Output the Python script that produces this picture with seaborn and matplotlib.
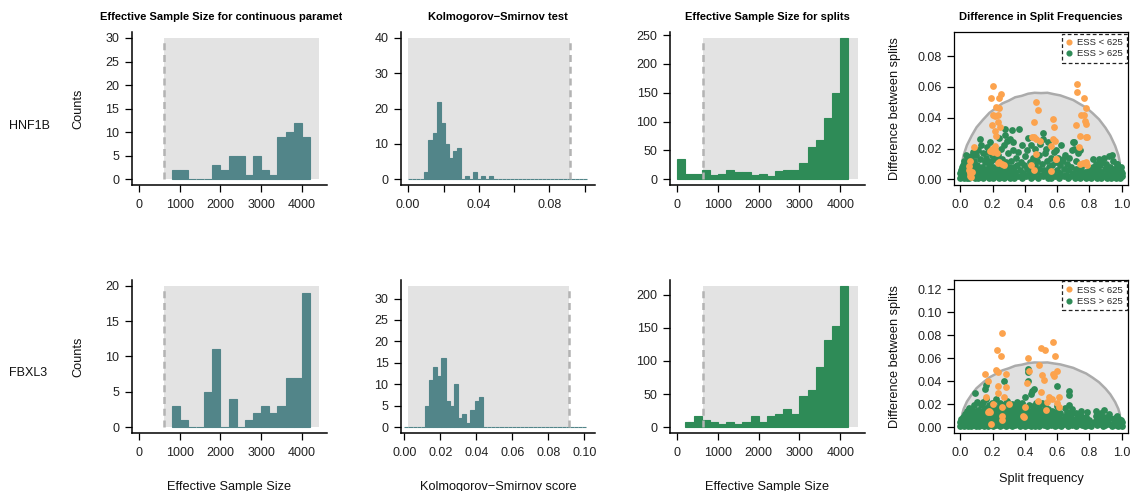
import numpy as np
import matplotlib
matplotlib.use("Agg")
import matplotlib.pyplot as plt
import seaborn as sns
from matplotlib.patches import Rectangle, Polygon
from matplotlib.lines import Line2D
from matplotlib.transforms import Bbox, TransformedBbox

# ---------------------------------------------------------------- data
genes = ["HNF1B", "FBXL3"]
ess_threshold = 625
ks_critical = 0.0918

# ESS of continuous parameters (bins of 200 starting at 800)
ess_bin_width = 200
ess_cont_start = 800
ess_cont_counts = {
    "HNF1B": [2, 2, 0, 0, 0, 3, 2, 5, 5, 1, 5, 2, 1, 9, 10, 12, 9],
    "FBXL3": [3, 1, 0, 0, 5, 11, 0, 4, 0, 1, 2, 3, 2, 3, 7, 7, 19],
}

# Kolmogorov-Smirnov scores (bins of 0.0023 starting at 0)
ks_bin_width = 0.0023
ks_counts = {
    "HNF1B": [0, 0, 0, 0, 2, 11, 13, 22, 16, 10, 6, 8, 9, 0, 1, 0, 2, 0, 1, 0, 1,
              0, 0, 0, 0, 0, 0, 0, 0, 0, 0, 0, 0, 0, 0, 0, 0, 0, 0, 0, 0, 0, 0, 0],
    "FBXL3": [0, 0, 0, 0, 0, 5, 11, 14, 12, 16, 6, 5, 10, 2, 3, 1, 4, 6, 7, 0, 0,
              0, 0, 0, 0, 0, 0, 0, 0, 0, 0, 0, 0, 0, 0, 0, 0, 0, 0, 0, 0, 0, 0, 0],
}
ks_range = {"HNF1B": (0.0, 0.1017), "FBXL3": (0.0022, 0.102)}

# ESS of splits (bins of 200)
split_start = {"HNF1B": 0, "FBXL3": 200}
split_counts = {
    "HNF1B": [35, 10, 10, 17, 8, 10, 17, 12, 12, 8, 10, 5, 14, 17, 17, 28, 56, 68,
              106, 150, 245],
    "FBXL3": [7, 16, 11, 8, 5, 8, 5, 8, 16, 8, 17, 19, 28, 19, 47, 56, 91, 132,
              153, 214],
}

ess_cont_ymax = {"HNF1B": 30, "FBXL3": 20}
ks_ymax = {"HNF1B": 40, "FBXL3": 33}
ess_xmax = 4430

# expected difference between runs as a function of split frequency
curve_p = [0.01, 0.02, 0.04, 0.07, 0.10, 0.14, 0.18, 0.22, 0.26, 0.30, 0.34,
           0.38, 0.42, 0.46, 0.50, 0.54, 0.58, 0.62, 0.66, 0.70, 0.74, 0.78,
           0.82, 0.86, 0.90, 0.93, 0.96, 0.98, 0.99]
curve_d = [0.0108, 0.0158, 0.0221, 0.0284, 0.0338, 0.0387, 0.0432, 0.0462,
           0.0493, 0.0511, 0.0533, 0.0542, 0.0556, 0.0562, 0.0560, 0.0562,
           0.0553, 0.0545, 0.0530, 0.0515, 0.0490, 0.0466, 0.0430, 0.0390,
           0.0335, 0.0285, 0.0218, 0.0158, 0.0108]

# split frequency vs difference between splits, HNF1B
hnf_low_freq = [0.205, 0.190, 0.240, 0.253, 0.222, 0.242, 0.200, 0.212, 0.232,
                0.195, 0.232, 0.246, 0.215, 0.222, 0.215, 0.185, 0.205, 0.226,
                0.196, 0.212, 0.230, 0.257, 0.268, 0.240, 0.082, 0.062, 0.055,
                0.050, 0.070, 0.057, 0.068, 0.062, 0.472, 0.483, 0.456, 0.458,
                0.447, 0.466, 0.468, 0.435, 0.456, 0.491, 0.575, 0.581, 0.575,
                0.565, 0.596, 0.565, 0.584, 0.594, 0.725, 0.725, 0.764, 0.780,
                0.766, 0.750, 0.776, 0.782, 0.715, 0.740, 0.780, 0.735, 0.760,
                0.745, 0.782, 0.788, 0.785]
hnf_low_diff = [0.0605, 0.0526, 0.0528, 0.0554, 0.0467, 0.0462, 0.0417, 0.0410,
                0.0415, 0.0352, 0.0370, 0.0337, 0.0315, 0.0283, 0.0217, 0.0185,
                0.0178, 0.0174, 0.0196, 0.0190, 0.0104, 0.0098, 0.0092, 0.0110,
                0.0207, 0.0120, 0.0085, 0.0060, 0.0050, 0.0022, 0.0018, 0.0040,
                0.0504, 0.0450, 0.0370, 0.0278, 0.0272, 0.0262, 0.0167, 0.0091,
                0.0059, 0.0250, 0.0390, 0.0337, 0.0265, 0.0217, 0.0135, 0.0054,
                0.0250, 0.0130, 0.0620, 0.0570, 0.0528, 0.0460, 0.0417, 0.0417,
                0.0380, 0.0362, 0.0352, 0.0283, 0.0276, 0.0211, 0.0109, 0.0100,
                0.0112, 0.0095, 0.0272]
hnf_high_freq = [
    0.000, 0.010, 0.005, 0.020, 0.020, 0.015, 0.030, 0.030, 0.025, 0.040, 0.040,
    0.040, 0.045, 0.035, 0.000, 0.010,
    0.050, 0.060, 0.055, 0.070, 0.075, 0.080, 0.085, 0.090, 0.090, 0.095, 0.065,
    0.080,
    0.100, 0.105, 0.110, 0.115, 0.120, 0.123, 0.130, 0.125, 0.135, 0.140, 0.140,
    0.145, 0.110, 0.150,
    0.155, 0.160, 0.160, 0.165, 0.170, 0.175, 0.180, 0.180, 0.185, 0.190, 0.195,
    0.195, 0.170,
    0.200, 0.205, 0.210, 0.215, 0.220, 0.225, 0.230, 0.235, 0.238, 0.240, 0.245,
    0.250, 0.250,
    0.255, 0.260, 0.265, 0.270, 0.272, 0.279, 0.280, 0.285, 0.287, 0.290, 0.295,
    0.300, 0.275,
    0.305, 0.308, 0.310, 0.315, 0.320, 0.325, 0.330, 0.329, 0.335, 0.340, 0.345,
    0.350, 0.318,
    0.355, 0.360, 0.366, 0.370, 0.375, 0.380, 0.385, 0.390, 0.395, 0.400,
    0.405, 0.410, 0.415, 0.421, 0.425, 0.430, 0.435, 0.441, 0.445, 0.450,
    0.455, 0.460, 0.465, 0.470, 0.475, 0.480, 0.485, 0.490, 0.495, 0.500,
    0.505, 0.511, 0.511, 0.515, 0.520, 0.525, 0.532, 0.535, 0.540, 0.544, 0.545,
    0.550,
    0.555, 0.560, 0.565, 0.570, 0.575, 0.580, 0.585, 0.590, 0.595, 0.600,
    0.604, 0.610, 0.615, 0.620, 0.626, 0.630, 0.635, 0.640, 0.645, 0.650,
    0.655, 0.660, 0.665, 0.670, 0.675, 0.680, 0.685, 0.690, 0.698, 0.703, 0.706,
    0.700,
    0.710, 0.715, 0.720, 0.725, 0.730, 0.739, 0.740, 0.745, 0.750,
    0.760, 0.770, 0.780, 0.790, 0.800,
    0.810, 0.815, 0.821, 0.825, 0.830, 0.835, 0.840, 0.845, 0.850,
    0.855, 0.860, 0.862, 0.865, 0.870, 0.875, 0.880, 0.885, 0.891, 0.895, 0.900,
    0.905, 0.910, 0.915, 0.922, 0.925, 0.930, 0.935, 0.940, 0.943, 0.945, 0.950,
    0.955, 0.960, 0.965, 0.970, 0.973, 0.975, 0.980, 0.985, 0.990, 0.994, 1.000,
    1.000, 0.995]
hnf_high_diff = [
    0.001, 0.003, 0.006, 0.001, 0.005, 0.009, 0.002, 0.007, 0.012, 0.001, 0.004,
    0.009, 0.014, 0.016, 0.004, 0.008,
    0.001, 0.005, 0.011, 0.002, 0.008, 0.004, 0.012, 0.001, 0.007, 0.016, 0.015,
    0.018,
    0.003, 0.009, 0.001, 0.006, 0.013, 0.026, 0.022, 0.003, 0.008, 0.001, 0.017,
    0.005, 0.019, 0.011,
    0.002, 0.007, 0.014, 0.021, 0.003, 0.010, 0.001, 0.006, 0.024, 0.012, 0.004,
    0.016, 0.018,
    0.001, 0.008, 0.004, 0.013, 0.002, 0.007, 0.016, 0.004, 0.027, 0.001, 0.009,
    0.020, 0.005,
    0.002, 0.013, 0.007, 0.001, 0.022, 0.029, 0.005, 0.011, 0.025, 0.002, 0.017,
    0.008, 0.033,
    0.001, 0.026, 0.005, 0.012, 0.002, 0.019, 0.008, 0.024, 0.001, 0.005, 0.014,
    0.009, 0.032,
    0.002, 0.018, 0.033, 0.006, 0.011, 0.001, 0.022, 0.004, 0.009, 0.015,
    0.002, 0.007, 0.019, 0.027, 0.004, 0.011, 0.001, 0.022, 0.006, 0.014,
    0.002, 0.009, 0.020, 0.005, 0.012, 0.001, 0.016, 0.007, 0.023, 0.003,
    0.010, 0.030, 0.026, 0.002, 0.006, 0.017, 0.020, 0.004, 0.012, 0.024, 0.001,
    0.008,
    0.003, 0.014, 0.001, 0.009, 0.005, 0.018, 0.002, 0.011, 0.019, 0.006,
    0.014, 0.001, 0.009, 0.004, 0.022, 0.012, 0.013, 0.002, 0.007, 0.016,
    0.003, 0.010, 0.001, 0.006, 0.014, 0.002, 0.008, 0.019, 0.024, 0.024, 0.020,
    0.004,
    0.001, 0.007, 0.012, 0.003, 0.017, 0.019, 0.005, 0.001, 0.008,
    0.002, 0.005, 0.001, 0.003, 0.006,
    0.001, 0.004, 0.013, 0.008, 0.0065, 0.002, 0.010, 0.005, 0.001,
    0.007, 0.013, 0.003, 0.009, 0.001, 0.005, 0.011, 0.002, 0.014, 0.007, 0.003,
    0.010, 0.001, 0.006, 0.015, 0.003, 0.008, 0.001, 0.005, 0.0157, 0.012, 0.002,
    0.007, 0.004, 0.001, 0.010, 0.0098, 0.005, 0.002, 0.006, 0.001, 0.0054, 0.002,
    0.004, 0.008]

# split frequency vs difference between splits, FBXL3
fbx_low_freq = [0.261, 0.224, 0.251, 0.575, 0.499, 0.522, 0.589, 0.419, 0.150,
                0.220, 0.236, 0.281, 0.170, 0.236, 0.281, 0.230, 0.158, 0.271,
                0.205, 0.302, 0.261, 0.179, 0.172, 0.185, 0.257, 0.261, 0.189,
                0.400, 0.388, 0.395, 0.415, 0.425, 0.487, 0.507, 0.497, 0.517,
                0.483, 0.528, 0.548, 0.569, 0.573, 0.578, 0.600, 0.610, 0.600,
                0.610, 0.535]
fbx_low_diff = [0.0817, 0.0672, 0.0620, 0.0736, 0.0687, 0.0670, 0.0614, 0.0597,
                0.0461, 0.0499, 0.0475, 0.0461, 0.0403, 0.0360, 0.0345, 0.0293,
                0.0258, 0.0258, 0.0200, 0.0200, 0.0177, 0.0142, 0.0130, 0.0135,
                0.0099, 0.0061, 0.0026, 0.0177, 0.0099, 0.0085, 0.0380, 0.0490,
                0.0539, 0.0452, 0.0307, 0.0409, 0.0229, 0.0148, 0.0258, 0.0243,
                0.0461, 0.0445, 0.0490, 0.0258, 0.0206, 0.0171, 0.0215]
fbx_high_freq = [
    0.000, 0.000, 0.005, 0.010, 0.010, 0.015, 0.020, 0.020, 0.025, 0.030, 0.030,
    0.035, 0.040, 0.040, 0.045, 0.045, 0.050, 0.050,
    0.055, 0.055, 0.060, 0.060, 0.065, 0.065, 0.070, 0.070, 0.075, 0.080, 0.080,
    0.085, 0.085, 0.088, 0.090, 0.095, 0.095, 0.100, 0.100,
    0.105, 0.110, 0.110, 0.115, 0.120, 0.120, 0.125, 0.130, 0.130, 0.135, 0.140,
    0.140, 0.145, 0.145, 0.150, 0.150,
    0.154, 0.158, 0.155, 0.160, 0.160, 0.165, 0.170, 0.170, 0.175, 0.175, 0.180,
    0.185, 0.185, 0.190, 0.195, 0.195, 0.200,
    0.205, 0.205, 0.210, 0.210, 0.215, 0.220, 0.220, 0.225, 0.230, 0.235, 0.235,
    0.240, 0.245, 0.245, 0.250, 0.250,
    0.255, 0.260, 0.260, 0.265, 0.271, 0.270, 0.275, 0.280, 0.280, 0.285, 0.290,
    0.290, 0.295, 0.300, 0.300,
    0.305, 0.310, 0.310, 0.315, 0.320, 0.320, 0.325, 0.330, 0.330, 0.335, 0.340,
    0.345, 0.345, 0.350, 0.350,
    0.355, 0.360, 0.360, 0.365, 0.370, 0.370, 0.375, 0.380, 0.385, 0.385, 0.390,
    0.395, 0.400, 0.400, 0.400,
    0.405, 0.410, 0.415, 0.421, 0.421, 0.421, 0.420, 0.425, 0.430, 0.430, 0.435,
    0.440, 0.440, 0.445, 0.445, 0.450, 0.450,
    0.456, 0.455, 0.460, 0.465, 0.465, 0.470, 0.475, 0.480, 0.485, 0.490, 0.490,
    0.495, 0.500, 0.500,
    0.507, 0.510, 0.515, 0.520, 0.520, 0.525, 0.530, 0.535, 0.540, 0.545, 0.545,
    0.550,
    0.555, 0.560, 0.565, 0.570, 0.575, 0.580, 0.585, 0.590, 0.595, 0.600, 0.600,
    0.600,
    0.610, 0.615, 0.620, 0.625, 0.630, 0.640, 0.650, 0.650, 0.655, 0.660, 0.665,
    0.671, 0.671, 0.670, 0.675, 0.680, 0.685, 0.690, 0.695, 0.700,
    0.710, 0.715, 0.720, 0.725, 0.730, 0.740, 0.750, 0.750, 0.755, 0.760, 0.770,
    0.780, 0.780, 0.785, 0.790, 0.800,
    0.810, 0.830, 0.840, 0.840, 0.845, 0.850, 0.860, 0.870, 0.875, 0.880, 0.885,
    0.890, 0.890, 0.895, 0.900,
    0.910, 0.920, 0.925, 0.930, 0.940, 0.950, 0.960, 0.965, 0.970, 0.975, 0.980,
    0.985, 0.990, 0.995, 1.000, 1.000]
fbx_high_diff = [
    0.001, 0.004, 0.007, 0.002, 0.005, 0.009, 0.001, 0.004, 0.007, 0.011, 0.002,
    0.005, 0.008, 0.014, 0.001, 0.004, 0.011, 0.017,
    0.002, 0.006, 0.009, 0.013, 0.001, 0.004, 0.007, 0.016, 0.011, 0.002, 0.005,
    0.009, 0.019, 0.030, 0.013, 0.001, 0.006, 0.010, 0.022,
    0.003, 0.008, 0.015, 0.001, 0.005, 0.012, 0.019, 0.002, 0.009, 0.006, 0.014,
    0.022, 0.001, 0.004, 0.010, 0.017,
    0.033, 0.037, 0.002, 0.007, 0.024, 0.013, 0.001, 0.004, 0.009, 0.019, 0.006,
    0.002, 0.016, 0.011, 0.004, 0.021, 0.008,
    0.001, 0.014, 0.005, 0.018, 0.010, 0.002, 0.024, 0.007, 0.013, 0.003, 0.017,
    0.009, 0.001, 0.021, 0.005, 0.012,
    0.008, 0.002, 0.016, 0.011, 0.040, 0.005, 0.020, 0.001, 0.009, 0.014, 0.004,
    0.023, 0.007, 0.012, 0.018,
    0.002, 0.006, 0.015, 0.010, 0.001, 0.020, 0.004, 0.008, 0.013, 0.017, 0.002,
    0.006, 0.011, 0.015, 0.022,
    0.003, 0.008, 0.019, 0.012, 0.001, 0.005, 0.016, 0.009, 0.003, 0.021, 0.013,
    0.006, 0.001, 0.026, 0.010,
    0.004, 0.015, 0.008, 0.0504, 0.0475, 0.0403, 0.002, 0.019, 0.011, 0.005,
    0.029, 0.001, 0.014, 0.008, 0.031, 0.003, 0.018,
    0.033, 0.011, 0.006, 0.001, 0.015, 0.021, 0.009, 0.004, 0.013, 0.001, 0.017,
    0.007, 0.011, 0.003,
    0.021, 0.006, 0.014, 0.002, 0.009, 0.018, 0.005, 0.012, 0.001, 0.008, 0.016,
    0.004,
    0.011, 0.002, 0.007, 0.014, 0.004, 0.009, 0.001, 0.013, 0.006, 0.036, 0.018,
    0.002,
    0.009, 0.004, 0.012, 0.001, 0.006, 0.003, 0.017, 0.010, 0.005, 0.013, 0.001,
    0.0316, 0.028, 0.008, 0.019, 0.004, 0.011, 0.016, 0.002, 0.007,
    0.004, 0.012, 0.001, 0.008, 0.003, 0.005, 0.010, 0.014, 0.002, 0.006, 0.001,
    0.004, 0.009, 0.013, 0.002, 0.006,
    0.001, 0.004, 0.010, 0.014, 0.006, 0.002, 0.008, 0.003, 0.012, 0.006, 0.001,
    0.015, 0.009, 0.004, 0.002,
    0.006, 0.011, 0.003, 0.008, 0.001, 0.004, 0.008, 0.002, 0.010, 0.005, 0.001,
    0.007, 0.003, 0.006, 0.001, 0.004]

dsf = {
    "HNF1B": dict(low=(hnf_low_freq, hnf_low_diff), high=(hnf_high_freq, hnf_high_diff),
                  ymax=0.0918, yticks=[0, 0.02, 0.04, 0.06, 0.08]),
    "FBXL3": dict(low=(fbx_low_freq, fbx_low_diff), high=(fbx_high_freq, fbx_high_diff),
                  ymax=0.123, yticks=[0, 0.02, 0.04, 0.06, 0.08, 0.10, 0.12]),
}

# ---------------------------------------------------------------- style
TEAL = "#528589"
GREEN = "#2E8B57"
ORANGE = "#FCA34E"
PANEL_GRAY = "#E3E3E3"
DASH_GRAY = "#B3B3B3"

sns.set_theme(style="ticks")
plt.rcParams["font.family"] = ["Liberation Sans", "DejaVu Sans"]
plt.rcParams["axes.unicode_minus"] = True

W, H = 1132, 491
fig = plt.figure(figsize=(W / 100, H / 100), dpi=100)
fig.patch.set_facecolor("white")

COLS = [(131.7, 326.7), (401, 595), (670, 865), (954, 1128)]
ROWS = [(32.3, 185), (280, 432.7)]


def px_axes(col, row):
    x0, x1 = COLS[col]
    y0, y1 = ROWS[row]
    return fig.add_axes([x0 / W, 1 - y1 / H, (x1 - x0) / W, (y1 - y0) / H])


def ext(a, b):
    r = b - a
    return a - 0.04 * r, b + 0.04 * r


def style_axis(ax, box=False):
    ax.set_facecolor("white")
    for side in ("top", "right"):
        ax.spines[side].set_visible(box)
    for sp in ax.spines.values():
        sp.set_color("black")
        sp.set_linewidth(1.1 if not box else 0.9)
    ax.tick_params(direction="out", length=5, width=0.9, colors="black",
                   labelsize=9, labelcolor="#222222")
    ax.tick_params(axis="x", pad=5)
    ax.tick_params(axis="y", pad=4)
    ax.set_xlabel("")
    ax.set_ylabel("")
    ax.grid(False)


def hist_panel(ax, start, width, counts, color):
    counts = np.asarray(counts, dtype=int)
    edges = start + width * np.arange(len(counts) + 1)
    centers = (edges[:-1] + edges[1:]) / 2
    values = np.repeat(centers, counts)
    sns.histplot(x=values, bins=list(edges), color=color, edgecolor=color,
                 linewidth=0.8, alpha=1, ax=ax, zorder=2)


def threshold_marks(ax, x0, x1, ytop, xline):
    ax.add_patch(Rectangle((x0, 0), x1 - x0, ytop, facecolor=PANEL_GRAY,
                           edgecolor="none", zorder=0))
    ax.plot([xline, xline], [0, ytop], color=DASH_GRAY, lw=1.8,
            dashes=(2.8, 1.9), zorder=3, solid_capstyle="butt")


for row, gene in enumerate(genes):
    # --- ESS of continuous parameters
    ax = px_axes(0, row)
    threshold_marks(ax, ess_threshold, ess_xmax, ess_cont_ymax[gene], ess_threshold)
    hist_panel(ax, ess_cont_start, ess_bin_width, ess_cont_counts[gene], TEAL)
    ax.set_xlim(*ext(0, ess_xmax))
    ax.set_ylim(*ext(0, ess_cont_ymax[gene]))
    ax.set_xticks([0, 1000, 2000, 3000, 4000])
    ax.set_yticks(np.arange(0, ess_cont_ymax[gene] + 1, 5))
    style_axis(ax)

    # --- Kolmogorov-Smirnov scores
    ax = px_axes(1, row)
    lo, hi = ks_range[gene]
    threshold_marks(ax, lo, ks_critical, ks_ymax[gene], ks_critical)
    hist_panel(ax, 0.0, ks_bin_width, ks_counts[gene], TEAL)
    ax.set_xlim(*ext(lo, hi))
    ax.set_ylim(*ext(0, ks_ymax[gene]))
    ax.set_xticks([0, 0.02, 0.04, 0.06, 0.08, 0.10])
    if row == 0:
        ax.set_xticklabels(["0.00", "", "0.04", "", "0.08", ""])
        ax.set_yticks([0, 10, 20, 30, 40])
    else:
        ax.set_xticklabels(["0.00", "0.02", "0.04", "0.06", "0.08", "0.10"])
        ax.set_yticks([0, 5, 10, 15, 20, 25, 30])
    style_axis(ax)

    # --- ESS of splits
    ax = px_axes(2, row)
    ytop = max(split_counts[gene])
    threshold_marks(ax, ess_threshold, ess_xmax, ytop, ess_threshold)
    hist_panel(ax, split_start[gene], ess_bin_width, split_counts[gene], GREEN)
    ax.set_xlim(*ext(0, ess_xmax))
    ylo, yhi = ext(0, ytop)
    ax.set_ylim(ylo, yhi)
    ax.set_xticks([0, 1000, 2000, 3000, 4000])
    ax.set_yticks(np.arange(0, yhi, 50))
    style_axis(ax)

    # --- difference in split frequencies
    ax = px_axes(3, row)
    d = dsf[gene]
    poly = [(curve_p[0], 0)] + list(zip(curve_p, curve_d)) + [(curve_p[-1], 0)]
    ax.add_patch(Polygon(poly, closed=True, facecolor="#E0E0E0",
                         edgecolor="none", zorder=0))
    ax.plot(curve_p, curve_d, color="#ABABAB", lw=1.8, zorder=1)
    sns.scatterplot(x=d["high"][0], y=d["high"][1], color=GREEN, s=24,
                    linewidth=0, ax=ax, zorder=2, legend=False)
    sns.scatterplot(x=d["low"][0], y=d["low"][1], color=ORANGE, s=24,
                    linewidth=0, ax=ax, zorder=3, legend=False)
    ax.set_xlim(*ext(0, 1))
    ax.set_ylim(*ext(0, d["ymax"]))
    ax.set_xticks([0, 0.2, 0.4, 0.6, 0.8, 1.0])
    ax.set_xticklabels(["0.0", "0.2", "0.4", "0.6", "0.8", "1.0"])
    ax.set_yticks(d["yticks"])
    ax.set_yticklabels([f"{v:.2f}" for v in d["yticks"]])
    style_axis(ax, box=True)
    handles = [Line2D([], [], marker="o", ls="none", color=ORANGE, markersize=3.4,
                      label="ESS < 625"),
               Line2D([], [], marker="o", ls="none", color=GREEN, markersize=3.4,
                      label="ESS > 625")]
    leg = ax.legend(handles=handles, loc="upper right", fontsize=6.8,
                    frameon=True, fancybox=False, borderaxespad=0.15,
                    handlelength=0.6, handletextpad=0.5, borderpad=0.45,
                    labelspacing=0.25, framealpha=1)
    leg.get_frame().set_edgecolor("#222222")
    leg.get_frame().set_linestyle((0, (3, 2)))
    leg.get_frame().set_linewidth(0.9)


def ftext(x, y, s, **kw):
    return fig.text(x / W, 1 - y / H, s, **kw)


# column titles
col_centers = [(a + b) / 2 for a, b in COLS]
titles = ["Effective Sample Size for continuous parameters", "Kolmogorov\u2212Smirnov test",
          "Effective Sample Size for splits", "Difference in Split Frequencies"]
for cx, t in zip(col_centers, titles):
    txt = ftext(cx, 17, t, ha="center", va="center", fontsize=8,
                fontweight="bold", color="black")
    if t.startswith("Effective Sample Size for continuous"):
        txt.set_clip_box(TransformedBbox(Bbox.from_extents(0, 0, 342 / W, 1),
                                         fig.transFigure))
        txt.set_clip_on(True)

# row labels and y labels
row_centers = [(a + b) / 2 for a, b in ROWS]
for rc, gene in zip(row_centers, genes):
    ftext(9, rc + 17, gene, ha="left", va="center", fontsize=9, color="#111111")
    ftext(78, rc, "Counts", ha="center", va="center", rotation=90,
          fontsize=9.2, color="#111111")
    ftext(895, rc, "Difference between splits", ha="center", va="center",
          rotation=90, fontsize=9.2, color="#111111")

# x labels on the bottom row
xlabels = ["Effective Sample Size", "Kolmogorov\u2212Smirnov score",
           "Effective Sample Size", "Split frequency"]
for i, (cx, t) in enumerate(zip(col_centers, xlabels)):
    yb = 482 if i == 3 else 490
    ftext(cx, yb, t, ha="center", va="baseline", fontsize=9.2, color="#111111")

fig.savefig("out.png", dpi=100, facecolor="white")
